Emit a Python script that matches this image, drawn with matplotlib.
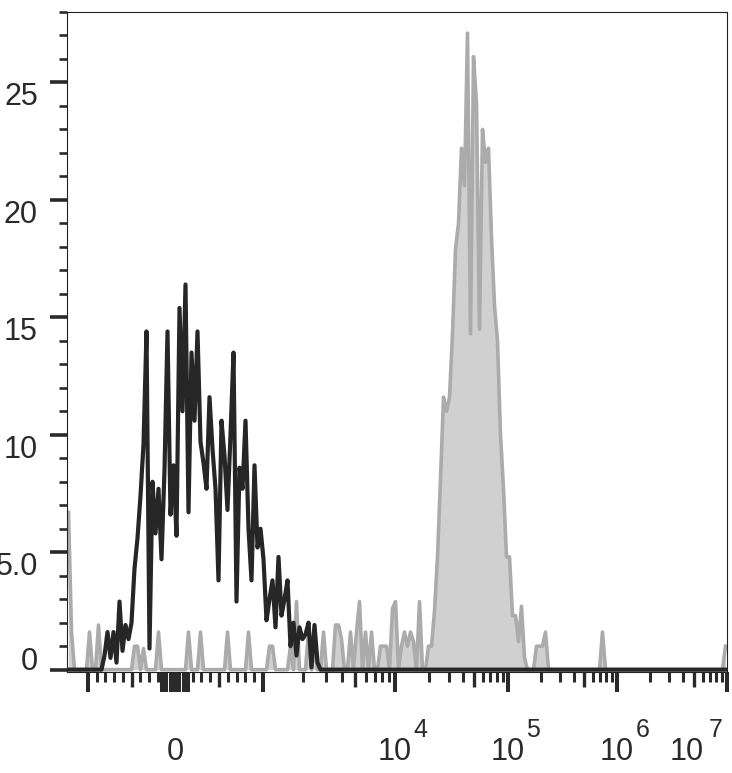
import numpy as np
import matplotlib.pyplot as plt
from matplotlib.ticker import MultipleLocator

plt.rcParams['font.family'] = ['Liberation Sans', 'DejaVu Sans']

# histograms live in display channels: 220 bins, 3 channels each
n_bins = 220
bin_width = 3

# control (black line), counts per bin starting at black_start
black_start = 11
black_counts = [0, 0.6, 1.6, 0.5, 1.6, 0.3, 2.9, 0.8, 1.9, 1.3,
                2.0, 4.3, 5.6, 7.4, 9.6, 14.4, 0.9, 8.0, 5.8, 7.7,
                4.7, 8.5, 14.4, 6.6, 8.7, 5.7, 15.4, 11.0, 16.4, 6.7,
                13.5, 10.6, 14.4, 9.7, 8.8, 7.7, 11.6, 9.4, 7.7, 3.8,
                10.6, 9.1, 6.8, 10.0, 13.5, 2.9, 8.6, 7.7, 10.6, 6.0,
                3.8, 8.7, 5.2, 6.0, 4.7, 2.1, 3.0, 3.8, 1.8, 4.8,
                2.3, 3.0, 3.8, 1.0, 2.0, 0.6, 1.8, 1.3, 1.5, 2.0,
                0.1, 1.9, 0.3, 0]

# stained sample (grey filled): main peak + scattered single events
gray_peak_start = 120
gray_peak_counts = [1.0, 1.0, 2.5, 4.8, 8.1, 11.6, 11.0, 11.6, 14.3, 17.9,
                    19.0, 22.2, 20.6, 27.1, 14.3, 26.1, 24.1, 14.5, 23.0, 21.6,
                    22.2, 18.4, 15.5, 14.0, 10.0, 7.7, 4.8, 4.8, 2.3, 2.3,
                    1.2, 2.7, 0.5]
gray_spike_bins = [0, 1, 7, 10, 22, 23, 25, 30, 40, 44, 53, 60, 67, 68, 74, 76,
                   80, 82, 85, 89, 90, 91, 94, 96, 97, 99, 101, 104, 105, 106,
                   108, 109, 111, 112, 113, 114, 115, 117, 156, 157, 158, 159,
                   178, 219]
gray_spike_counts = [6.7, 1.6, 1.6, 1.9, 1.0, 1.0, 0.9, 1.6, 1.6, 1.6, 1.6, 1.6,
                     1.0, 1.0, 1.0, 2.9, 1.6, 1.0, 1.6, 1.9, 1.9, 1.3, 1.6, 1.6,
                     2.9, 1.6, 1.6, 1.0, 1.0, 1.0, 2.6, 2.9, 1.0, 1.6, 1.0, 1.6,
                     1.2, 2.9, 1.0, 1.0, 1.0, 1.6, 1.6, 1.0]

y_ticks = [0, 5, 10, 15, 20, 25]
y_tick_labels = ["0", "5.0", "10", "15", "20", "25"]

x_label_values = [0, 1e4, 1e5, 1e6, 1e7]
x_label_bases = ["0", "10", "10", "10", "10"]
x_label_exps = ["", "4", "5", "6", "7"]

# biexponential display: linear within +-10^3, log decades above
anchor_u = [-1, 0, 1, 2, 3, 4, 5]
anchor_chan = [21, 108, 196, 328, 441, 550, 660]


def to_channel(v):
    v = np.asarray(v, dtype=float)
    a = np.abs(v)
    u = np.where(a <= 1000, v / 1000,
                 np.sign(v) * (1 + np.log10(np.maximum(a, 1000) / 1000)))
    return np.interp(u, anchor_u, anchor_chan)


centers = (np.arange(n_bins) + 0.5) * bin_width

black = np.zeros(n_bins)
black[black_start:black_start + len(black_counts)] = black_counts
gray = np.zeros(n_bins)
gray[gray_spike_bins] = gray_spike_counts
gray[gray_peak_start:gray_peak_start + len(gray_peak_counts)] = gray_peak_counts

fig = plt.figure(figsize=(7.32, 7.73), dpi=100)
ax = fig.add_axes([67 / 732, 101 / 773, 660 / 732, 660 / 773])

ax.fill_between(centers, 0, gray, color='#d0d0d0', lw=0, zorder=1)
ax.plot(centers, gray, color='#ababab', lw=2.6, zorder=2)
ax.plot(centers, black, color='#262626', lw=3.0, zorder=3)

ax.set_xlim(0, 660)
ax.set_ylim(-0.1, 28)

tick_col = '#2a2a2a'
for s in ax.spines.values():
    s.set_linewidth(0.8)
    s.set_color('#222222')

# y axis
ax.set_yticks(y_ticks, y_tick_labels)
ax.yaxis.set_minor_locator(MultipleLocator(1))
ax.tick_params(axis='y', which='major', direction='out', length=12.5, width=2.6,
               color=tick_col, labelsize=22, labelcolor='#2a2a2a', pad=8.5)
ax.tick_params(axis='y', which='minor', direction='out', length=5.5, width=1.9,
               color=tick_col)
for lbl in ax.get_yticklabels():
    if lbl.get_text() == "0":
        lbl.set_verticalalignment('baseline')
    else:
        lbl.set_verticalalignment('top')

# x axis ticks
major_vals = [-1000, -150, -100, -50, 0, 50, 100, 150, 1000, 1e4, 1e5, 1e6, 1e7]
minor_vals = [s * k * 100 for s in (-1, 1) for k in range(2, 10) if k != 5]
minor_vals += [k * 10 ** n for n in range(3, 7) for k in (2, 3, 4, 6, 7, 8, 9)]
mid_vals = [-500, 500, 5e3, 5e4, 5e5, 5e6]
ax.set_xticks(to_channel(major_vals))
ax.set_xticks(to_channel(minor_vals), minor=True)
ax.tick_params(axis='x', which='major', direction='out', length=14.5, width=2.9,
               color=tick_col, labelbottom=False)
ax.tick_params(axis='x', which='minor', direction='out', length=7.2, width=2.2,
               color=tick_col)
sec = ax.secondary_xaxis('bottom')
sec.set_xticks(to_channel(mid_vals))
sec.tick_params(direction='out', length=10.8, width=2.4, color=tick_col,
                labelbottom=False)
sec.spines['bottom'].set_visible(False)

# x labels: "10" centred on the tick, exponent set beside it
for v, base, ex in zip(x_label_values, x_label_bases, x_label_exps):
    xc = float(to_channel(v))
    if v >= 1e7:
        bx, bha, ex_x = -16.6, 'right', -13.0
    else:
        bx, bha, ex_x = 0, 'center', 13.3
    ax.annotate(base, xy=(xc, 0), xycoords=('data', 'axes fraction'),
                xytext=(bx, -63.4), textcoords='offset points',
                ha=bha, va='baseline', fontsize=22, color='#2a2a2a',
                annotation_clip=False)
    if ex:
        ax.annotate(ex, xy=(xc, 0), xycoords=('data', 'axes fraction'),
                    xytext=(ex_x, -46.8), textcoords='offset points',
                    ha='left', va='baseline', fontsize=18, color='#2a2a2a',
                    annotation_clip=False)

fig.savefig('out.png', dpi=100)
